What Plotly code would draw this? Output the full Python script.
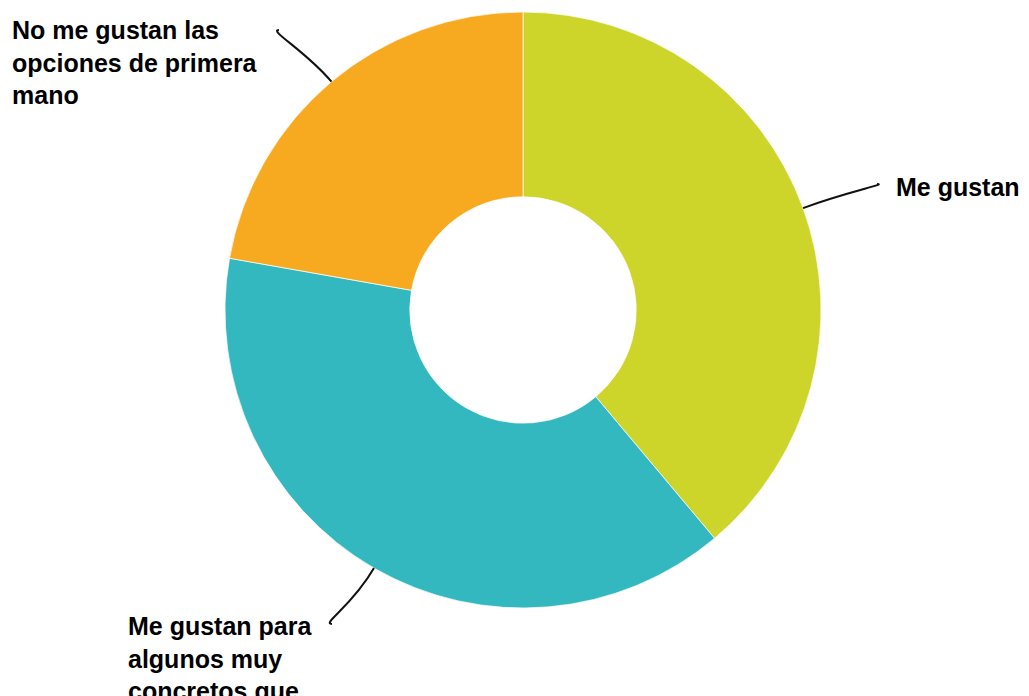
import math
import plotly.graph_objects as go

# Survey answers and their counts
labels = [
    "Me gustan",
    "Me gustan para algunos muy concretos que",
    "No me gustan las opciones de primera mano",
]
values = [7, 7, 4]
colors = ["#CDD52A", "#34B8C0", "#F7AA1F"]

# Label text as shown beside the ring
label_text = [
    "Me gustan",
    "Me gustan para<br>algunos muy<br>concretos que",
    "No me gustan las<br>opciones de primera<br>mano",
]

W, H = 1029, 696
CX, CY, R = 523, 310, 298   # ring centre and outer radius in pixels
HOLE = 0.38

# Where each label block sits (pixels) and where its leader line ends
label_pos = [(894, 187, "left", "middle"), (126, 610, "left", "top"), (10, 14, "left", "top")]
leader_end = [(877, 184), (332, 624), (279, 30)]
end_dir = [-1, 1, 1]        # side from which the leader reaches its end
leader_reach = [50, 45, 40]  # how far the leader runs outward before bending


def px(x, y):
    return x / W, 1 - y / H


fig = go.Figure(
    go.Pie(
        labels=labels,
        values=values,
        hole=HOLE,
        sort=False,
        direction="clockwise",
        rotation=0,
        marker=dict(colors=colors, line=dict(color="rgba(255,255,255,0.7)", width=1)),
        textinfo="none",
        hoverinfo="label+value",
        domain=dict(x=[(CX - R) / W, (CX + R) / W], y=[1 - (CY + R) / H, 1 - (CY - R) / H]),
        showlegend=False,
    )
)

shapes = []
annotations = []
total = sum(values)
acc = 0
for i, v in enumerate(values):
    mid = 2 * math.pi * (acc + v / 2) / total
    acc += v
    dx, dy = math.sin(mid), -math.cos(mid)
    sx, sy = CX + R * dx, CY + R * dy
    ex, ey = leader_end[i]
    c1 = (sx + leader_reach[i] * dx, sy + leader_reach[i] * dy)
    c2 = (ex - end_dir[i] * 11, ey)
    pts = [px(sx, sy), px(*c1), px(*c2), px(ex, ey)]
    path = "M {:.5f},{:.5f} C {:.5f},{:.5f} {:.5f},{:.5f} {:.5f},{:.5f}".format(
        *[c for p in pts for c in p]
    )
    shapes.append(dict(type="path", path=path, xref="paper", yref="paper",
                       line=dict(color="#111111", width=2)))
    lx, ly, xa, ya = label_pos[i]
    annotations.append(dict(
        x=lx / W, y=1 - ly / H, xref="paper", yref="paper",
        text=label_text[i], showarrow=False, xanchor=xa, yanchor=ya, align="left",
        font=dict(family="Liberation Sans, Arial, sans-serif", size=25, color="#000000", weight=700),
    ))

fig.update_layout(
    width=W, height=H,
    margin=dict(l=0, r=0, t=0, b=0),
    paper_bgcolor="white", plot_bgcolor="white",
    shapes=shapes, annotations=annotations,
)

fig.write_html("out.html")
